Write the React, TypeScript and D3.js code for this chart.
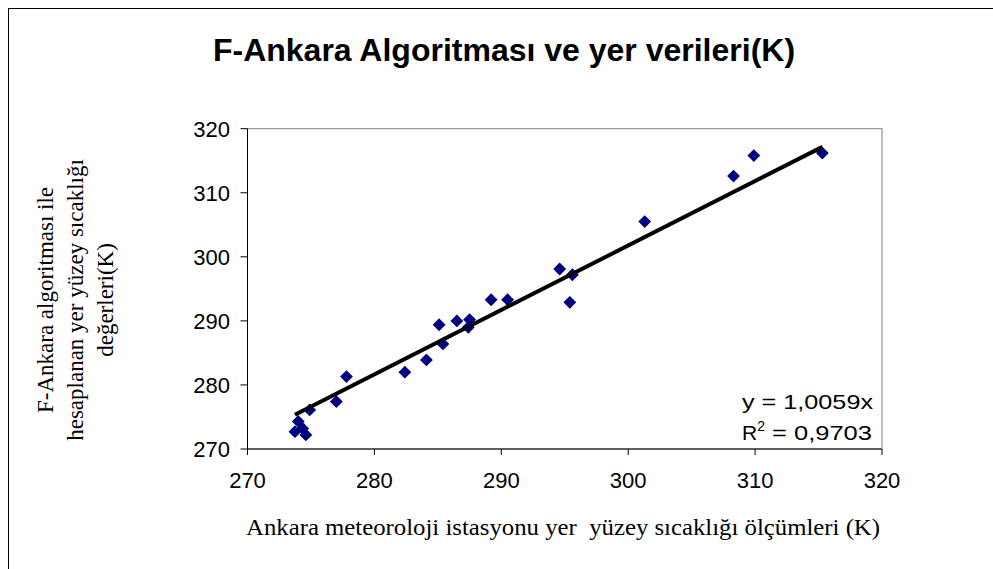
import React from "react";
import * as d3 from "d3";

const TITLE = "F-Ankara Algoritması ve yer verileri(K)";
const X_LABEL = "Ankara meteoroloji istasyonu yer  yüzey sıcaklığı ölçümleri (K)";
const Y_LABEL_LINES = ["F-Ankara algoritması ile", "hesaplanan yer yüzey sıcaklığı", "değerleri(K)"];
const X_TICKS = [270, 280, 290, 300, 310, 320];
const Y_TICKS = [270, 280, 290, 300, 310, 320];
const SLOPE = 1.0059;
const EQ_TEXT = "y = 1,0059x";
const R2_TEXT = "0,9703";

const measuredX = [273.74, 274.0, 274.35, 274.6, 274.9, 277.0, 277.8, 282.4, 284.1, 285.1, 285.4, 286.5, 287.4, 287.5, 289.2, 290.5, 294.6, 295.4, 295.6, 301.3, 308.3, 309.9, 315.3];
const computedY = [272.7, 274.3, 273.2, 272.2, 276.1, 277.4, 281.3, 282.0, 283.9, 289.4, 286.4, 290.0, 289.0, 290.2, 293.3, 293.3, 298.1, 292.9, 297.2, 305.5, 312.6, 315.8, 316.2];

export default function App() {
  const left = 247.5, right = 882, top = 128.7, bottom = 449;
  const x = d3.scaleLinear().domain([270, 320]).range([left, right]);
  const y = d3.scaleLinear().domain([270, 320]).range([bottom, top]);
  const pts = measuredX.map((v, i) => ({ x: v, y: computedY[i] }));
  const xMin = d3.min(measuredX)!, xMax = d3.max(measuredX)!;
  const line = d3.line<number>().x(d => x(d)).y(d => y(SLOPE * d));
  const diamond = d3.symbol().type(d3.symbolDiamond2 ?? d3.symbolDiamond).size(105)();
  const sans = "'Liberation Sans', Arial, sans-serif";
  const serif = "'Liberation Serif', 'Times New Roman', serif";
  return (
    <svg width={993} height={569} style={{ position: "absolute", left: 0, top: 0, background: "#fff" }}>
      <rect x={8.5} y={8.5} width={1100} height={1100} fill="#fff" stroke="#000" strokeWidth={1} />
      <text x={504} y={61} textAnchor="middle" fontFamily={sans} fontWeight="bold" fontSize={32}>{TITLE}</text>
      <rect x={left} y={top} width={right - left} height={bottom - top} fill="none" stroke="#808080" strokeWidth={1} />
      <line x1={left} x2={left} y1={top} y2={bottom} stroke="#000" />
      <line x1={left} x2={right} y1={bottom} y2={bottom} stroke="#000" />
      {Y_TICKS.map(t => (
        <g key={"y" + t}>
          <line x1={left - 7} x2={left} y1={y(t)} y2={y(t)} stroke="#000" />
          <text x={230} y={y(t) + 8} textAnchor="end" fontFamily={sans} fontSize={22}>{t}</text>
        </g>
      ))}
      {X_TICKS.map(t => (
        <g key={"x" + t}>
          <line x1={x(t)} x2={x(t)} y1={bottom} y2={bottom + 6} stroke="#000" />
          <text x={x(t)} y={488} textAnchor="middle" fontFamily={sans} fontSize={22}>{t}</text>
        </g>
      ))}
      {pts.map((p, i) => (
        <path key={i} d={diamond} transform={`translate(${x(p.x)},${y(p.y)})`} fill="#000080" />
      ))}
      <path d={line([xMin, xMax])!} stroke="#000" strokeWidth={4} fill="none" />
      <text x={742} y={409} fontFamily={sans} fontSize={21} textLength={131} lengthAdjust="spacingAndGlyphs">{EQ_TEXT}</text>
      <text x={742} y={440} fontFamily={sans} fontSize={21}>
        R<tspan dy={-9} fontSize={14}>2</tspan><tspan dy={9} textLength={107} lengthAdjust="spacingAndGlyphs"> = {R2_TEXT}</tspan>
      </text>
      <text x={246} y={535} fontFamily={serif} fontSize={24} textLength={634} lengthAdjust="spacingAndGlyphs" style={{ whiteSpace: "pre" }}>{X_LABEL}</text>
      {Y_LABEL_LINES.map((l, i) => (
        <text key={l} transform={`translate(${53 + i * 30},300) rotate(-90)`} textAnchor="middle" fontFamily={serif} fontSize={23}>{l}</text>
      ))}
    </svg>
  );
}
